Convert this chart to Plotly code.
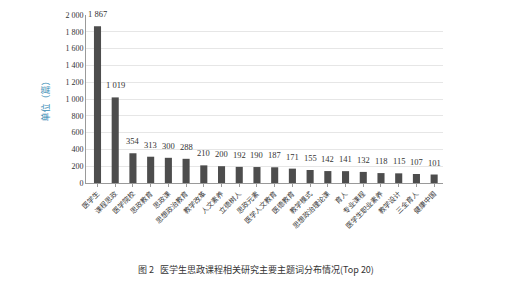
import plotly.graph_objects as go

categories = ["医学生", "课程思政", "医学院校", "思政教育", "思政课", "思想政治教育",
              "教学改革", "人文素养", "立德树人", "思政元素", "医学人文教育", "医德教育",
              "教学模式", "思想政治理论课", "育人", "专业课程", "医学生职业素养", "教学设计",
              "三全育人", "健康中国"]
values = [1867, 1019, 354, 313, 300, 288, 210, 200, 192, 190, 187, 171,
          155, 142, 141, 132, 118, 115, 107, 101]
y_ticks = list(range(0, 2001, 200))

labels = [f"{v:,}".replace(",", " ") for v in values]

fig = go.Figure()
fig.add_trace(go.Bar(
    x=categories, y=values,
    marker=dict(color="#4d4d4d", line=dict(width=0)),
    width=0.4,
    hoverinfo="skip",
))

annotations = [dict(
    x=c, y=v, text=t, xref="x", yref="y", showarrow=False,
    xanchor="center", yanchor="bottom", yshift=5,
    font=dict(family="Liberation Serif", size=8.5, color="#333333"),
) for c, v, t in zip(categories, values, labels)]

annotations.append(dict(
    text="图 2   医学生思政课程相关研究主要主题词分布情况(Top 20)",
    x=(256 - 86) / (513 - 86 - 70), y=(288 - 105 - 272) / (288 - 11 - 105),
    xref="paper", yref="paper", showarrow=False,
    xanchor="center", yanchor="middle",
    font=dict(family="Noto Sans CJK SC", size=9, color="#333333"),
))

fig.update_layout(
    width=513, height=288,
    margin=dict(l=86, r=70, t=11, b=105),
    paper_bgcolor="white", plot_bgcolor="white",
    separators=". ",
    showlegend=False,
    xaxis=dict(
        tickangle=-45,
        tickfont=dict(family="Noto Sans CJK SC", size=7, color="#333333"),
        showline=True, linecolor="#9a9a9a", linewidth=1,
        ticks="outside", ticklen=3, tickcolor="#9a9a9a",
        showgrid=False,
    ),
    yaxis=dict(
        range=[0, 2000],
        tickvals=y_ticks,
        tickformat=",d",
        tickfont=dict(family="Liberation Serif", size=8, color="#333333"),
        showgrid=True, gridcolor="#e6e6e6", gridwidth=1,
        showline=True, linecolor="#9a9a9a", linewidth=1,
        zeroline=False,
        title=dict(text="单位（篇）", font=dict(family="Noto Sans CJK SC", size=9, color="#3a8db5"),
                   standoff=14),
    ),
    annotations=annotations,
)

fig.write_html("out.html")
